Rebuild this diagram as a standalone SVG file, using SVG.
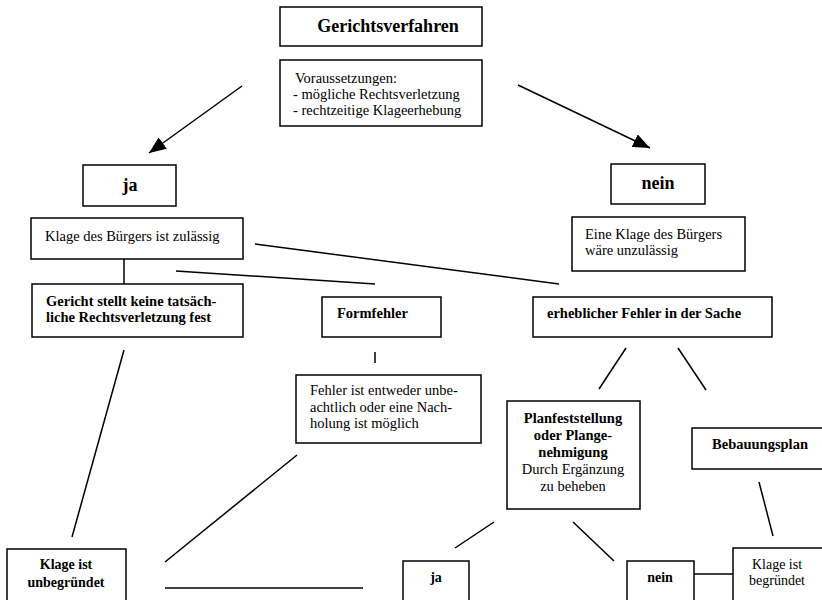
<svg xmlns="http://www.w3.org/2000/svg" width="822" height="600" viewBox="0 0 822 600">
<defs>
<marker id="arr" markerUnits="userSpaceOnUse" markerWidth="18" markerHeight="14" refX="17" refY="7" orient="auto">
<path d="M0,0 L17,7 L0,14 z" fill="#000"/>
</marker>
<style>
.b{fill:#fff;stroke:#000;stroke-width:1.5}
.t{font-family:"Liberation Serif","Times New Roman",serif;font-size:14.5px;fill:#000}
.bd{font-weight:bold}
.c{text-anchor:middle}
.h{font-size:18px}
.s{font-size:14px}
.l{stroke:#000;stroke-width:1.5;fill:none}
</style>
</defs>
<rect width="822" height="600" fill="#fff"/>
<g id="connectors">
<line class="l" x1="242" y1="86" x2="149" y2="153" marker-end="url(#arr)"/>
<line class="l" x1="518" y1="85" x2="650" y2="148" marker-end="url(#arr)"/>
<line class="l" x1="124" y1="259" x2="124" y2="284"/>
<line class="l" x1="255" y1="244" x2="559" y2="284"/>
<line class="l" x1="176" y1="271" x2="375" y2="284"/>
<line class="l" x1="124" y1="350" x2="72" y2="537"/>
<line class="l" x1="375" y1="352" x2="375" y2="363"/>
<line class="l" x1="297" y1="455" x2="165" y2="562"/>
<line class="l" x1="165" y1="588" x2="363" y2="588"/>
<line class="l" x1="626" y1="348" x2="599" y2="389"/>
<line class="l" x1="678" y1="348" x2="706" y2="390"/>
<line class="l" x1="759" y1="482" x2="773" y2="536"/>
<line class="l" x1="494" y1="522" x2="455" y2="548"/>
<line class="l" x1="573" y1="522" x2="614" y2="561"/>
<line class="l" x1="694" y1="574" x2="733" y2="574"/>
</g>
<g id="gerichtsverfahren">
<rect class="b" x="280" y="7" width="202" height="39"/>
<text class="t bd h c" x="388" y="32">Gerichtsverfahren</text>
</g>
<g id="voraussetzungen">
<rect class="b" x="280" y="60" width="202" height="66"/>
<text class="t" x="295" y="83">Voraussetzungen:</text>
<text class="t" x="293" y="99">- mögliche Rechtsverletzung</text>
<text class="t" x="293" y="115">- rechtzeitige Klageerhebung</text>
</g>
<g id="ja-top">
<rect class="b" x="83" y="165" width="93" height="41"/>
<text class="t bd h c" x="130" y="191">ja</text>
</g>
<g id="nein-top">
<rect class="b" x="611" y="164" width="94" height="40"/>
<text class="t bd h c" x="658" y="189">nein</text>
</g>
<g id="zulaessig">
<rect class="b" x="31" y="218" width="212" height="41"/>
<text class="t" x="45" y="241">Klage des Bürgers ist zulässig</text>
</g>
<g id="unzulaessig">
<rect class="b" x="572" y="217" width="173" height="54"/>
<text class="t" x="585" y="239">Eine Klage des Bürgers</text>
<text class="t" x="585" y="255">wäre unzulässig</text>
</g>
<g id="gericht">
<rect class="b" x="32" y="284" width="211" height="53"/>
<text class="t bd" x="46" y="306">Gericht stellt keine tatsäch-</text>
<text class="t bd" x="46" y="322">liche Rechtsverletzung fest</text>
</g>
<g id="formfehler">
<rect class="b" x="322" y="297" width="119" height="40"/>
<text class="t bd" x="337" y="318">Formfehler</text>
</g>
<g id="erheblich">
<rect class="b" x="533" y="297" width="239" height="40"/>
<text class="t bd" x="547" y="318">erheblicher Fehler in der Sache</text>
</g>
<g id="fehler">
<rect class="b" x="296" y="375" width="185" height="68"/>
<text class="t" x="310" y="395">Fehler ist entweder unbe-</text>
<text class="t" x="310" y="412">achtlich oder eine Nach-</text>
<text class="t" x="310" y="428">holung ist möglich</text>
</g>
<g id="planfeststellung">
<rect class="b" x="507" y="401" width="133" height="108"/>
<text class="t bd c" x="573" y="423">Planfeststellung</text>
<text class="t bd c" x="573" y="440">oder Plange-</text>
<text class="t bd c" x="573" y="457">nehmigung</text>
<text class="t c" x="573" y="474">Durch Ergänzung</text>
<text class="t c" x="573" y="491">zu beheben</text>
</g>
<g id="bebauungsplan">
<rect class="b" x="692" y="428" width="140" height="41"/>
<text class="t bd c" x="760" y="449">Bebauungsplan</text>
</g>
<g id="unbegruendet">
<rect class="b" x="7" y="549" width="119" height="60"/>
<text class="t bd s c" x="66" y="569">Klage ist</text>
<text class="t bd s c" x="66" y="587">unbegründet</text>
</g>
<g id="ja-bottom">
<rect class="b" x="403" y="561" width="66" height="50"/>
<text class="t bd s c" x="436" y="582">ja</text>
</g>
<g id="nein-bottom">
<rect class="b" x="627" y="561" width="67" height="50"/>
<text class="t bd s c" x="660" y="582">nein</text>
</g>
<g id="begruendet">
<rect class="b" x="733" y="548" width="100" height="62"/>
<text class="t s c" x="777" y="569">Klage ist</text>
<text class="t s c" x="777" y="585">begründet</text>
</g>
</svg>
